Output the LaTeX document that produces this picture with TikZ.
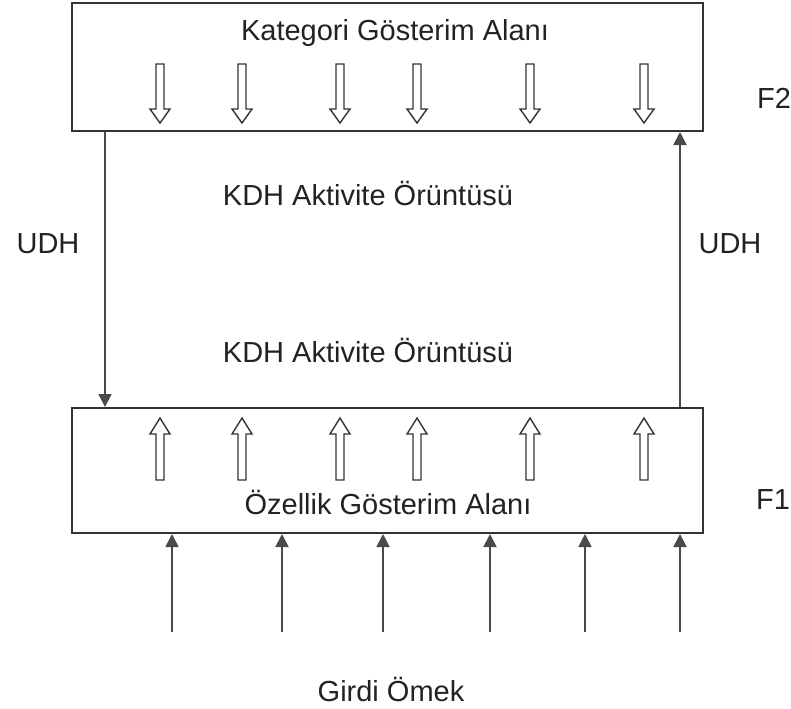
\documentclass[tikz,border=0pt]{standalone}
\usepackage{fontspec}
\setmainfont{Liberation Sans}
\usetikzlibrary{arrows.meta}
\definecolor{ink}{HTML}{222222}
\definecolor{frame}{HTML}{333333}
\definecolor{wire}{HTML}{4A4A4A}
\begin{document}
\begin{tikzpicture}[x=0.5pt,y=-0.5pt,
  every node/.style={text=ink,font=\fontsize{14.5pt}{17pt}\selectfont},
  layerbox/.style={draw=frame,line width=1pt,minimum width=315.5pt,inner sep=0pt},
  label/.style={inner sep=0pt},
  link/.style={draw=wire,line width=0.9pt,-{Triangle[length=6.5pt,width=6.5pt]}},
  hollowdown/.pic={\draw[draw=frame,line width=0.7pt,fill=white]
      (-4,0) -- (4,0) -- (4,45) -- (10,45) -- (0,59) -- (-10,45) -- (-4,45) -- cycle;},
  hollowup/.pic={\draw[draw=frame,line width=0.7pt,fill=white]
      (-4,0) -- (4,0) -- (4,-46) -- (10,-46) -- (0,-62) -- (-10,-46) -- (-4,-46) -- cycle;}
]
\useasboundingbox (0,0) rectangle (791,708);

% layers
\node[layerbox,minimum height=64pt] (F2box) at (387.5,67) {};
\node[layerbox,minimum height=62.5pt] (F1box) at (387.5,470.5) {};

\node[label] (F2title) at (395,33) {Kategori Gösterim Alanı};
\node[label] (F1title) at (388,502) {Özellik Gösterim Alanı};
\node[label] (F2name) at (774,98) {F2};
\node[label] (F1name) at (773,500) {F1};

% hollow arrows inside the layers
\foreach \x in {160,242,340,417,530,644}{
  \pic at (\x,64) {hollowdown};
  \pic at (\x,480) {hollowup};
}

% top-down and bottom-up weights
\draw[link] (F2box.south -| 105,0) -- (F1box.north -| 105,0);
\draw[link] (F1box.north -| 680,0) -- (F2box.south -| 680,0);
\node[label] (udhL) at (48,244) {UDH};
\node[label] (udhR) at (730,244) {UDH};

\node[label] (kdhTop) at (368,193) {KDH Aktivite Örüntüsü};
\node[label] (kdhBot) at (368,350) {KDH Aktivite Örüntüsü};

% input lines
\foreach \x [count=\i] in {172,282,383,490,585,680}{
  \coordinate (in\i) at (\x,632);
  \draw[link] (in\i) -- (F1box.south -| in\i);
}
\node[label] (input) at (391,689) {Girdi Ömek};
\end{tikzpicture}
\end{document}
